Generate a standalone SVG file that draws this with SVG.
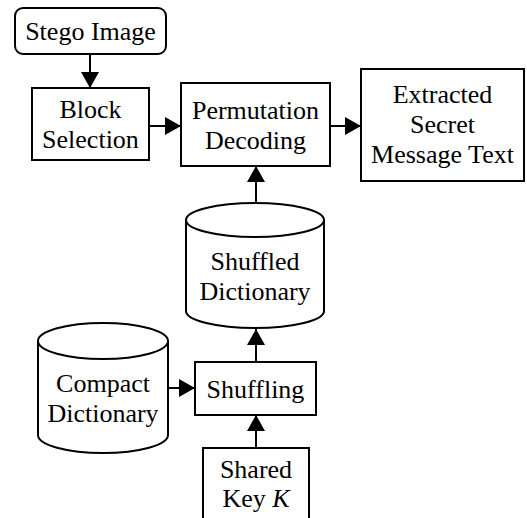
<svg xmlns="http://www.w3.org/2000/svg" width="527" height="518" viewBox="0 0 527 518">
<style>
.box{fill:#fff;stroke:#000;stroke-width:2}
.t{font-family:'Liberation Serif','Times New Roman',serif;font-size:26px;fill:#000;text-anchor:middle}
.c{stroke:#000;stroke-width:2;fill:none}
</style>
<defs>
<marker id="ah" markerUnits="userSpaceOnUse" markerWidth="16" markerHeight="18" refX="16" refY="9" orient="auto">
<path d="M0,0 L16,9 L0,18 Z" fill="#000"/>
</marker>
</defs>
<rect width="527" height="518" fill="#fff"/>
<g id="connectors">
<line class="c" x1="90" y1="54" x2="90" y2="88" marker-end="url(#ah)"/>
<line class="c" x1="149" y1="126" x2="181" y2="126" marker-end="url(#ah)"/>
<line class="c" x1="330" y1="126" x2="361" y2="126" marker-end="url(#ah)"/>
<line class="c" x1="256" y1="203" x2="256" y2="166" marker-end="url(#ah)"/>
<line class="c" x1="256" y1="362" x2="256" y2="329" marker-end="url(#ah)"/>
<line class="c" x1="168" y1="388" x2="195" y2="388" marker-end="url(#ah)"/>
<line class="c" x1="256" y1="448" x2="256" y2="415" marker-end="url(#ah)"/>
</g>
<g id="stego">
<rect class="box" x="15" y="8" width="151" height="46" rx="8"/>
<text class="t" x="90.5" y="40">Stego Image</text>
</g>
<g id="block">
<rect class="box" x="32" y="88" width="117" height="72"/>
<text class="t" x="90.5" y="118">Block</text>
<text class="t" x="90.5" y="148">Selection</text>
</g>
<g id="perm">
<rect class="box" x="181" y="83" width="149" height="83"/>
<text class="t" x="255.5" y="119">Permutation</text>
<text class="t" x="255.5" y="149">Decoding</text>
</g>
<g id="extracted">
<rect class="box" x="361" y="69" width="163" height="112"/>
<text class="t" x="442.5" y="103">Extracted</text>
<text class="t" x="442.5" y="133">Secret</text>
<text class="t" x="442.5" y="163">Message Text</text>
</g>
<g id="shuffled">
<path class="box" d="M186,220 L186,311 A69,17 0 0 0 324,311 L324,220 A69,17 0 0 0 186,220 A69,17 0 0 0 324,220"/>
<text class="t" x="255" y="270">Shuffled</text>
<text class="t" x="255" y="300">Dictionary</text>
</g>
<g id="compact">
<path class="box" d="M38,341 L38,435 A65,18 0 0 0 168,435 L168,341 A65,18 0 0 0 38,341 A65,18 0 0 0 168,341"/>
<text class="t" x="103" y="392">Compact</text>
<text class="t" x="103" y="422">Dictionary</text>
</g>
<g id="shuffling">
<rect class="box" x="195" y="362" width="121" height="53"/>
<text class="t" x="255.5" y="398">Shuffling</text>
</g>
<g id="key">
<rect class="box" x="203" y="448" width="106" height="90"/>
<text class="t" x="256" y="478">Shared</text>
<text class="t" x="256" y="507">Key <tspan font-style="italic">K</tspan></text>
</g>
</svg>
